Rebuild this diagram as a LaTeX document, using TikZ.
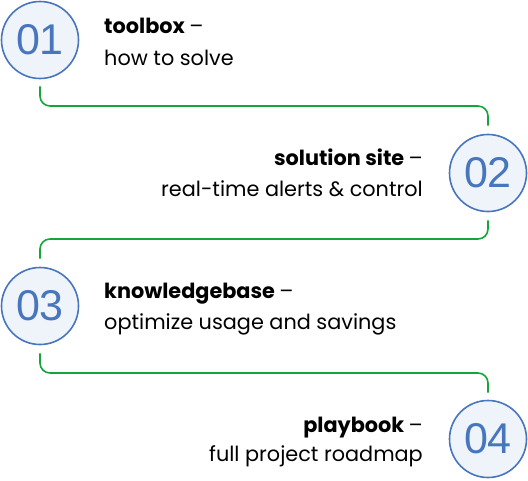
\documentclass[tikz,border=0pt]{standalone}
\usepackage{fontspec}
\setmainfont{Poppins}
\newfontfamily\digitfont{Liberation Sans}
\usepackage{tikz}
\usetikzlibrary{positioning,calc}

\definecolor{stepblue}{RGB}{72,118,190}
\definecolor{stepfill}{RGB}{239,243,250}
\definecolor{linkgreen}{RGB}{22,165,58}

\tikzset{
  numcircle/.style={circle, draw=stepblue, fill=stepfill, line width=1.6pt,
    minimum size=77pt, inner sep=0pt, text=stepblue, font=\digitfont\fontsize{43}{43}\selectfont},
  head/.style={inner sep=0pt, font=\fontsize{20.8}{24}\selectfont\bfseries},
  sub/.style={inner sep=0pt, font=\fontsize{20.8}{24}\selectfont},
  link/.style={draw=linkgreen, line width=1.6pt, rounded corners=10pt}
}

\begin{document}
\begin{tikzpicture}[x=1pt,y=-1pt]
\useasboundingbox (0,0) rectangle (528,480);

\def\leftx{40}
\def\rightx{488}

% circles
\node[numcircle] (c1) at (\leftx,40) {01};
\node[numcircle] (c2) at (\rightx,173) {02};
\node[numcircle] (c3) at (\leftx,306) {03};
\node[numcircle] (c4) at (\rightx,439) {04};

% texts
\node[head, anchor=base west] (t1) at (104,33) {toolbox \normalfont–};
\node[sub, anchor=base west] (s1) at ([yshift=-32pt]t1.base west) {how to solve};

\node[head, anchor=base east] (t2) at (423,165) {solution site \normalfont–};
\node[sub, anchor=base east] (s2) at ([yshift=-31pt]t2.base east) {real-time alerts \& control};

\node[head, anchor=base west] (t3) at (104,298) {knowledgebase \normalfont–};
\node[sub, anchor=base west] (s3) at ([yshift=-31pt]t3.base west) {optimize usage and savings};

\node[head, anchor=base east] (t4) at (423,432) {playbook \normalfont–};
\node[sub, anchor=base east] (s4) at ([yshift=-29pt]t4.base east) {full project roadmap};

% connectors
\coordinate (h1) at (0,106);
\coordinate (h2) at (0,239);
\coordinate (h3) at (0,373);
\draw[link] ([yshift=-7pt]c1.south) |- (h1 -| c2) -- ([yshift=8pt]c2.north);
\draw[link] ([yshift=-8pt]c2.south) |- (h2 -| c3) -- ([yshift=8pt]c3.north);
\draw[link] ([yshift=-8pt]c3.south) |- (h3 -| c4) -- ([yshift=7pt]c4.north);

\end{tikzpicture}
\end{document}
